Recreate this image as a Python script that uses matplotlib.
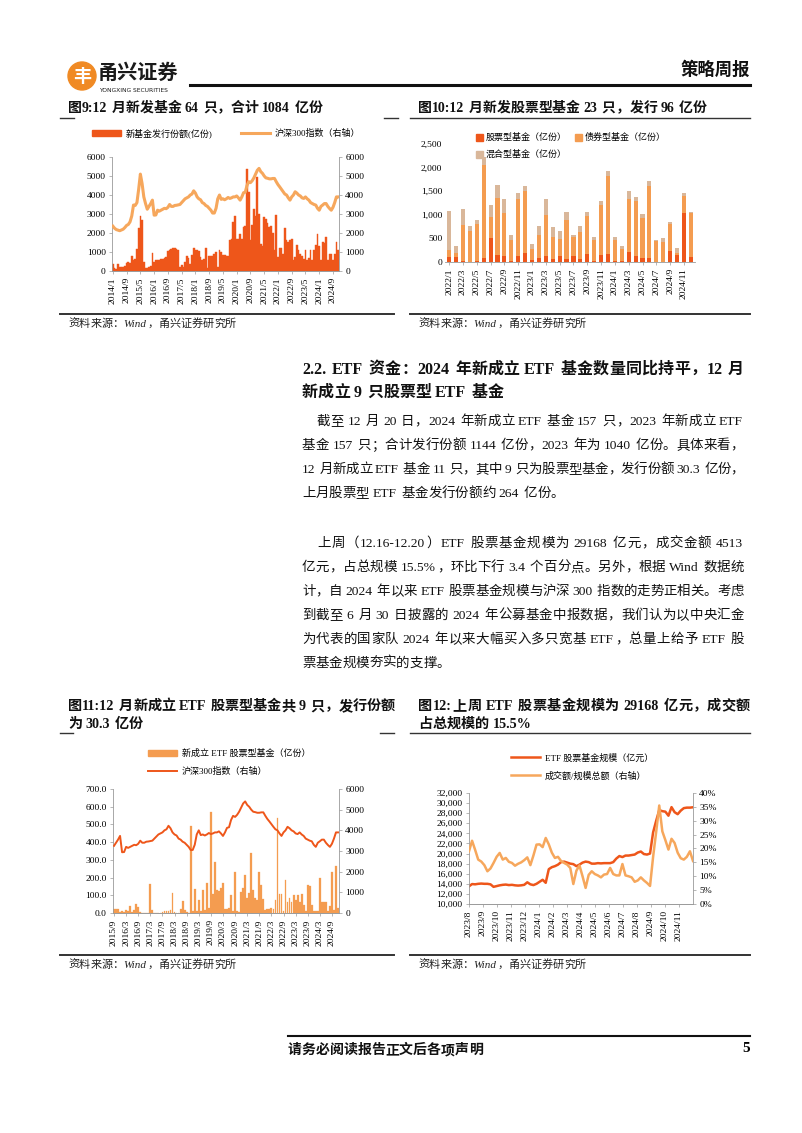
import re
import numpy as np
import matplotlib
matplotlib.use('Agg')
import matplotlib.pyplot as plt
from matplotlib.patches import Ellipse, Rectangle
from matplotlib.lines import Line2D
from matplotlib.ticker import FuncFormatter

plt.rcParams['font.family'] = ['Liberation Serif', 'Noto Sans CJK SC']
plt.rcParams['axes.unicode_minus'] = False

# ---- 图9: monthly new fund issuance (亿份) and HS300, 2014/1 - 2024/12
fund_issue = [
    370, 150, 120, 350, 200, 210, 230, 250, 400, 460, 430, 780,
    560, 650, 1160, 2240, 2900, 2680, 460, 180, 150, 200, 240, 950,
    480, 560, 600, 600, 620, 650, 700, 720, 1050, 1100, 1150, 1200,
    1200, 1150, 1100, 210, 300, 210, 470, 770, 700, 390, 860, 1230,
    1100, 1100, 1050, 740, 600, 650, 1230, 150, 770, 800, 800, 900,
    1000, 200, 1100, 1000, 850, 820, 800, 780, 1650, 1700, 2600, 2900,
    1700, 1700, 1950, 1700, 2300, 2350, 5350, 4150, 1650, 2400, 3250, 2900,
    4950, 3000, 1400, 1300, 2850, 2750, 2500, 2300, 2350, 2000, 1100, 2950,
    740, 1230, 1200, 900, 2270, 1650, 1500, 1620, 1660, 560, 740, 1350,
    1100, 900, 800, 650, 1100, 600, 700, 1100, 560, 1100, 1370, 1940,
    1300, 600, 1500, 1450, 1800, 600, 900, 880, 600, 900, 1500, 1084,
]
hs300 = [
    2360, 2250, 2180, 2150, 2120, 2160, 2200, 2290, 2400, 2450, 2590, 2900,
    3470, 3450, 3600, 4300, 5100, 4600, 3900, 3550, 3250, 3400, 3550, 3730,
    2940, 2950, 3200, 3150, 3200, 3250, 3300, 3280, 3350, 3500, 3400, 3400,
    3450, 3460, 3480, 3500, 3600, 3700, 3800, 3850, 3900, 4000, 4050, 4220,
    4100, 3900, 3800, 3750, 3600, 3550, 3450, 3400, 3300, 3200, 3050, 3050,
    3300, 3800, 4000, 3770, 3800, 3750, 3800, 3870, 3820, 3850, 3900, 3900,
    3950, 3850, 3730, 3900, 4120, 4150, 4500, 4700, 4650, 4750, 4900, 5100,
    5300, 5400, 5230, 5140, 5000, 4900, 4880, 4850, 4850, 4870, 4870, 4700,
    4550, 4430, 4300, 4170, 4050, 4000, 3850, 3730, 3900, 4000, 4170, 4100,
    4000, 3950, 3850, 3820, 3900, 3800, 3730, 3600, 3550, 3500, 3470, 3300,
    3200, 3400, 3470, 3550, 3550, 3400, 3290, 3200, 3350, 3600, 3900, 3900,
]
ticks9 = ['2014/1', '2014/9', '2015/5', '2016/1', '2016/9', '2017/5', '2018/1', '2018/9',
          '2019/5', '2020/1', '2020/9', '2021/5', '2022/1', '2022/9', '2023/5', '2024/1', '2024/9']

# ---- 图10: monthly issuance by type (亿份), 2022/1 - 2024/12
stock_fund = [100, 100, 20, 10, 20, 90, 500, 140, 120, 20, 120, 200,
              50, 80, 120, 60, 120, 60, 130, 60, 170, 20, 150, 180,
              20, 20, 220, 120, 90, 90, 10, 10, 240, 140, 1030, 96]
bond_fund = [150, 100, 760, 640, 790, 1960, 460, 1220, 910, 450, 1220, 1300,
             230, 490, 880, 480, 360, 820, 400, 580, 810, 440, 1060, 1640,
             440, 250, 1120, 1170, 850, 1530, 430, 420, 560, 60, 370, 944]
mix_fund = [830, 130, 340, 110, 70, 170, 240, 280, 310, 110, 120, 120,
            110, 190, 340, 200, 170, 180, 50, 120, 80, 60, 80, 100,
            80, 70, 160, 90, 80, 100, 30, 70, 40, 100, 60, 20]
ticks10 = ['2022/1', '2022/3', '2022/5', '2022/7', '2022/9', '2022/11',
           '2023/1', '2023/3', '2023/5', '2023/7', '2023/9', '2023/11',
           '2024/1', '2024/3', '2024/5', '2024/7', '2024/9', '2024/11']

# ---- 图11: new stock ETF issuance (亿份), 2015/9 - 2024/12, HS300 from the same months
etf_new = [
    20, 25, 20, 5, 10, 3, 15, 10, 40, 5, 15, 48,
    35, 5, 2, 0, 0, 0, 165, 15, 0, 0, 0, 0,
    8, 10, 10, 12, 15, 115, 5, 2, 0, 25, 68, 15,
    5, 0, 489, 10, 135, 10, 75, 10, 128, 15, 170, 30,
    568, 110, 290, 132, 124, 140, 167, 25, 20, 30, 100, 10,
    230, 10, 5, 120, 143, 214, 83, 115, 337, 130, 83, 73,
    233, 158, 80, 17, 25, 20, 30, 25, 73, 534, 110, 110,
    10, 186, 64, 83, 60, 100, 73, 100, 64, 110, 45, 10,
    158, 154, 45, 10, 10, 10, 200, 64, 64, 64, 10, 40,
    230, 15, 264, 30.3,
]
hs300_etf = hs300[20:]
ticks11 = ['2015/9', '2016/3', '2016/9', '2017/3', '2017/9', '2018/3', '2018/9', '2019/3',
           '2019/9', '2020/3', '2020/9', '2021/3', '2021/9', '2022/3', '2022/9', '2023/3',
           '2023/9', '2024/3', '2024/9']

# ---- 图12: weekly ETF stock fund scale (亿元) and turnover / scale (%)
etf_scale = [
    13500, 13950, 13900, 14000, 14050, 14000, 14000, 13900, 13400, 13550,
    13700, 13800, 13850, 13750, 13800, 13700, 13650, 13700, 13800, 14300,
    13900, 13750, 14000, 14400, 14800, 14200, 16900, 17300, 17500, 17800,
    18300, 18400, 18200, 18000, 17900, 17500, 17800, 18200, 18400, 18300,
    18000, 18000, 18100, 18050, 18100, 18100, 18100, 18300, 19000, 19500,
    19300, 19600, 19600, 19700, 19800, 20200, 20400, 19900, 19800, 20000,
    24200, 26500, 28600, 28400, 28300, 27500, 29200, 28200, 27800, 28500,
    29000, 29100, 29100, 29168,
]
turnover_ratio = [
    19, 22.8, 19.5, 16, 15.3, 14, 11.8, 12.8, 14.8, 17,
    18.4, 16, 16.6, 15.2, 14.8, 13.8, 14.5, 15, 15.8, 16.8,
    14, 17.5, 21.4, 21.5, 20.5, 23.8, 21.5, 18.5, 16.6, 17,
    15.5, 14.8, 14.2, 13, 7.2, 12, 13.9, 10, 5.8, 10.5,
    11.8, 10.8, 10.3, 9.6, 10.6, 10.8, 13, 10.8, 10.3, 10.3,
    14.4, 10.3, 10, 9.6, 8, 8.5, 9.6, 8.5, 7.6, 6.5,
    17, 26, 35.5, 26.2, 23, 19.6, 23.5, 22, 18.5, 16.5,
    16, 17, 19, 15.5,
]
ticks12 = ['2023/8', '2023/9', '2023/10', '2023/11', '2023/12', '2024/1', '2024/2', '2024/3',
           '2024/4', '2024/5', '2024/6', '2024/7', '2024/8', '2024/9', '2024/10', '2024/11']

C_RED = '#EE561A'
C_ORANGE = '#F49C50'
C_LIGHT = '#F6A75C'
C_TAN = '#D9B79A'
C_AX = '#9A9A9A'

W, H = 802, 1133
fig = plt.figure(figsize=(W / 100, H / 100), dpi=100)
renderer = fig.canvas.get_renderer()


def fx(x):
    return x / W


def fy(y):
    return 1 - y / H


def hline(x0, x1, y, lw=1.0, color='#333333'):
    fig.add_artist(Line2D([fx(x0), fx(x1)], [fy(y), fy(y)], transform=fig.transFigure,
                          color=color, lw=lw))


def put_text(s, x0, y, size, x1=None, weight='normal', color='#111111', style='normal'):
    # lays out one line token by token; stretches it to x1 when given
    em = size * 100 / 72
    base = y + 0.36 * em
    items = []
    for tok in re.findall(r'[!-~]+| |[^!-~ ]', s):
        if tok == ' ':
            items.append(('sp', None, em * 0.25))
        elif ord(tok[0]) < 128:
            t = fig.text(0, fy(base), tok, fontsize=size, weight=weight, color=color,
                         style=style, ha='left', va='baseline')
            items.append(('a', t, t.get_window_extent(renderer).width + em * 0.08))
        else:
            t = fig.text(0, fy(base), tok, fontsize=size, weight=weight, color=color,
                         ha='center', va='baseline')
            items.append(('c', t, em))
    total = sum(w for _, _, w in items)
    extra = 0 if x1 is None else (x1 - x0 - total) / max(len(items) - 1, 1)
    x = x0
    for kind, t, w in items:
        if kind == 'a':
            t.set_x(fx(x))
        elif kind == 'c':
            t.set_x(fx(x + w / 2))
        x += w + extra


def add_ax(x0, y0, x1, y1):
    return fig.add_axes([fx(x0), fy(y1), (x1 - x0) / W, (y1 - y0) / H])


def style_ax(ax, left=True, right=False):
    ax.spines['top'].set_visible(False)
    ax.spines['left'].set_visible(left)
    ax.spines['right'].set_visible(right)
    for s in ax.spines.values():
        s.set_color(C_AX)
        s.set_linewidth(0.6)
    ax.tick_params(labelsize=6.8, length=2.5, width=0.5, color=C_AX, pad=2)
    ax.set_facecolor('none')


# ---------------- header ----------------
fig.add_artist(Ellipse((fx(82), fy(76)), 28 / W, 28 / H, transform=fig.transFigure,
                       color='#F08A24'))
fig.text(fx(82), fy(76), '丰', fontsize=13, weight='bold', color='white',
         ha='center', va='center', family='Noto Sans CJK SC')
fig.text(fx(98), fy(72), '甬兴证券', fontsize=14.5, weight='bold', color='#1A1A1A',
         ha='left', va='center', family='Noto Sans CJK SC')
fig.text(fx(99), fy(90), 'YONGXING SECURITIES', fontsize=4.3, color='#1A1A1A',
         ha='left', va='center', family='DejaVu Sans')
fig.text(fx(750), fy(70), '策略周报', fontsize=12.5, weight='bold', color='#111111',
         ha='right', va='center', family='Noto Sans CJK SC')
hline(190, 750, 85, lw=2.2, color='#111111')

# ---------------- chart titles ----------------
put_text('图9:12 月新发基金 64 只，合计 1084 亿份', 68, 107, 10.0, weight='bold')
put_text('图10:12 月新发股票型基金 23 只，发行 96 亿份', 418, 107, 10.0, weight='bold')
hline(60, 74, 118, lw=1.0)
hline(384, 398, 118, lw=1.0)
hline(410, 750, 118, lw=1.0)

# ---------------- 图9 ----------------
ax1 = add_ax(112, 157, 339, 271)
x9 = np.arange(len(fund_issue))
ax1.bar(x9, fund_issue, width=1.0, color=C_RED, edgecolor=C_RED, linewidth=0.3)
ax1.set_xlim(-0.5, len(fund_issue) - 0.5)
ax1.set_ylim(0, 6000)
ax1.set_yticks(range(0, 6001, 1000))
ax1.set_xticks(x9[::8])
ax1.set_xticklabels(ticks9, rotation=90)
style_ax(ax1, left=True, right=False)
ax1r = ax1.twinx()
ax1r.plot(x9, hs300, color=C_LIGHT, lw=2.2)
ax1r.set_ylim(0, 6000)
ax1r.set_yticks(range(0, 6001, 1000))
style_ax(ax1r, left=False, right=True)
fig.legend([Rectangle((0, 0), 1, 1, color=C_RED), Line2D([], [], color=C_LIGHT, lw=2.2)],
           ['新基金发行份额(亿份)', '沪深300指数（右轴）'], loc='center',
           bbox_to_anchor=(fx(226), fy(133)), ncol=2, frameon=False, fontsize=6.5,
           handlelength=3.2, handleheight=0.6, columnspacing=3.2, handletextpad=0.5)

# ---------------- 图10 ----------------
ax2 = add_ax(445, 144, 695, 262)
x10 = np.arange(len(stock_fund))
stack2 = np.array(stock_fund) + np.array(bond_fund)
ax2.bar(x10, stock_fund, width=0.6, color=C_RED, linewidth=0)
ax2.bar(x10, bond_fund, width=0.6, bottom=stock_fund, color=C_ORANGE, linewidth=0)
ax2.bar(x10, mix_fund, width=0.6, bottom=stack2, color=C_TAN, linewidth=0)
ax2.set_xlim(-0.6, len(stock_fund) - 0.4)
ax2.set_ylim(0, 2500)
ax2.set_yticks(range(0, 2501, 500))
ax2.yaxis.set_major_formatter(FuncFormatter(lambda v, p: f'{v:,.0f}'))
ax2.set_xticks(x10[::2])
ax2.set_xticklabels(ticks10, rotation=90)
style_ax(ax2, left=False, right=False)
ax2.tick_params(axis='y', length=0)
leg_h = [Rectangle((0, 0), 1, 1, color=C_RED), Rectangle((0, 0), 1, 1, color=C_TAN),
         Rectangle((0, 0), 1, 1, color=C_ORANGE)]
fig.legend(leg_h, ['股票型基金（亿份）', '混合型基金（亿份）', '债券型基金（亿份）'],
           loc='upper left', bbox_to_anchor=(fx(468), fy(125)), ncol=2, frameon=False,
           fontsize=6.5, handlelength=0.8, handleheight=0.8, handletextpad=0.2,
           columnspacing=1.0, labelspacing=0.9)

# ---------------- text block ----------------
put_text('2.2. ETF 资金：2024 年新成立 ETF 基金数量同比持平，12 月', 302, 368, 11.5,
         x1=744, weight='bold')
put_text('新成立 9 只股票型 ETF 基金', 302, 391, 11.5, weight='bold')

para1 = ['截至 12 月 20 日，2024 年新成立 ETF 基金 157 只，2023 年新成立 ETF',
         '基金 157 只；合计发行份额 1144 亿份，2023 年为 1040 亿份。具体来看，',
         '12 月新成立 ETF 基金 11 只，其中 9 只为股票型基金，发行份额 30.3 亿份，',
         '上月股票型 ETF 基金发行份额约 264 亿份。']
para2 = ['上周（12.16-12.20）ETF 股票基金规模为 29168 亿元，成交金额 4513',
         '亿元，占总规模 15.5%，环比下行 3.4 个百分点。另外，根据 Wind 数据统',
         '计，自 2024 年以来 ETF 股票基金规模与沪深 300 指数的走势正相关。考虑',
         '到截至 6 月 30 日披露的 2024 年公募基金中报数据，我们认为以中央汇金',
         '为代表的国家队 2024 年以来大幅买入多只宽基 ETF，总量上给予 ETF 股',
         '票基金规模夯实的支撑。']
for lines, y0 in [(para1, 420), (para2, 542)]:
    for i, line in enumerate(lines):
        x0 = 317 if i == 0 else 302
        last = i == len(lines) - 1
        put_text(line, x0, y0 + i * 24, 9.7, x1=None if last else 744)

# ---------------- sources ----------------
for xa, xb, xt, yl in [(60, 394, 68, 314), (410, 750, 418, 314),
                       (60, 394, 68, 955), (410, 750, 418, 955)]:
    hline(xa, xb, yl, lw=1.4, color='#333333')
    put_text('资料来源：Wind，甬兴证券研究所', xt, yl + 9, 8.0, color='#222222', style='italic')

# ---------------- titles 11 / 12 ----------------
put_text('图11:12 月新成立 ETF 股票型基金共 9 只，发行份额', 68, 705, 10.2, x1=395, weight='bold')
put_text('为 30.3 亿份', 68, 723, 10.2, weight='bold')
put_text('图12:上周 ETF 股票基金规模为 29168 亿元，成交额', 418, 705, 10.2, x1=750, weight='bold')
put_text('占总规模的 15.5%', 418, 723, 10.2, weight='bold')
hline(60, 73, 733, lw=1.0)
hline(380, 394, 733, lw=1.0)
hline(410, 750, 733, lw=1.0)

# ---------------- 图11 ----------------
ax3 = add_ax(113, 789, 339, 913)
x11 = np.arange(len(etf_new))
ax3.bar(x11, etf_new, width=0.9, color=C_ORANGE, edgecolor=C_ORANGE, linewidth=0.2)
ax3.set_xlim(-0.5, len(etf_new) - 0.5)
ax3.set_ylim(0, 700)
ax3.set_yticks(range(0, 701, 100))
ax3.yaxis.set_major_formatter(FuncFormatter(lambda v, p: f'{v:.1f}'))
ax3.set_xticks(x11[::6])
ax3.set_xticklabels(ticks11, rotation=90)
style_ax(ax3, left=True, right=False)
ax3r = ax3.twinx()
ax3r.plot(x11, hs300_etf, color=C_RED, lw=1.4)
ax3r.set_ylim(0, 6000)
ax3r.set_yticks(range(0, 6001, 1000))
style_ax(ax3r, left=False, right=True)
fig.legend([Rectangle((0, 0), 1, 1, color=C_ORANGE), Line2D([], [], color=C_RED, lw=1.4)],
           ['新成立 ETF 股票型基金（亿份）', '沪深300指数（右轴）'], loc='upper left',
           bbox_to_anchor=(fx(140), fy(741)), ncol=1, frameon=False, fontsize=6.5,
           handlelength=3.2, handleheight=0.7, handletextpad=0.5, labelspacing=1.0)

# ---------------- 图12 ----------------
ax4 = add_ax(469, 793, 693, 904)
x12 = np.arange(len(etf_scale))
ax4.plot(x12, etf_scale, color=C_RED, lw=1.8)
ax4.set_xlim(0, len(etf_scale) - 1)
ax4.set_ylim(10000, 32000)
ax4.set_yticks(range(10000, 32001, 2000))
ax4.yaxis.set_major_formatter(FuncFormatter(lambda v, p: f'{v:,.0f}'))
ax4.set_xticks(np.arange(len(ticks12)) * 4.56)
ax4.set_xticklabels(ticks12, rotation=90)
style_ax(ax4, left=True, right=False)
ax4r = ax4.twinx()
ax4r.plot(x12, turnover_ratio, color=C_LIGHT, lw=1.8)
ax4r.set_ylim(0, 40)
ax4r.set_yticks(range(0, 41, 5))
ax4r.yaxis.set_major_formatter(FuncFormatter(lambda v, p: f'{v:.0f}%'))
style_ax(ax4r, left=False, right=True)
fig.legend([Line2D([], [], color=C_RED, lw=1.8), Line2D([], [], color=C_LIGHT, lw=1.8)],
           ['ETF 股票基金规模（亿元）', '成交额/规模总额（右轴）'], loc='upper left',
           bbox_to_anchor=(fx(503), fy(745)), ncol=1, frameon=False, fontsize=6.5,
           handlelength=3.2, handletextpad=0.5, labelspacing=1.0)

# ---------------- footer ----------------
hline(288, 750, 1036, lw=1.5, color='#111111')
put_text('请务必阅读报告正文后各项声明', 288, 1049, 10, weight='bold')
fig.text(fx(750), fy(1049), '5', fontsize=11, weight='bold', ha='right', va='center')

fig.savefig('out.png', dpi=100)
